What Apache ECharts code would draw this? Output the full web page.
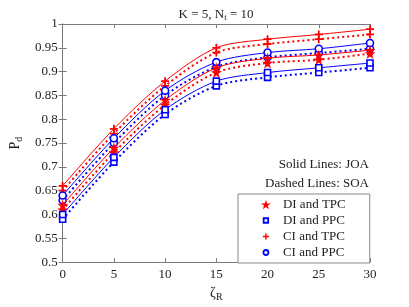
<!DOCTYPE html>
<html><head><meta charset="utf-8">
<script src="https://cdn.jsdelivr.net/npm/echarts@6/dist/echarts.min.js"></script>
<style>html,body{margin:0;padding:0;background:#fff}#c{width:409px;height:307px}</style>
</head><body><div id="c"></div>
<script>
const xValues = [0, 5, 10, 15, 20, 25, 30];
const ciTpcJOA = [0.66, 0.78, 0.88, 0.95, 0.968, 0.978, 0.989];
const ciTpcSOA = [0.65, 0.77, 0.87, 0.94, 0.958, 0.968, 0.978];
const ciPpcJOA = [0.64, 0.76, 0.86, 0.92, 0.94, 0.948, 0.96];
const ciPpcSOA = [0.63, 0.75, 0.85, 0.91, 0.93, 0.939, 0.948];
const diTpcJOA = [0.62, 0.74, 0.84, 0.908, 0.928, 0.935, 0.945];
const diTpcSOA = [0.61, 0.73, 0.83, 0.898, 0.918, 0.925, 0.938];
const diPpcJOA = [0.60, 0.72, 0.82, 0.88, 0.898, 0.908, 0.918];
const diPpcSOA = [0.59, 0.71, 0.81, 0.87, 0.888, 0.898, 0.908];
const legendNames = ['DI and TPC', 'DI and PPC', 'CI and TPC', 'CI and PPC'];

const RED = '#ff0000', BLUE = '#0000ff';
const STAR = 'path://M0,-1L0.2245,-0.309L0.951,-0.309L0.363,0.118L0.588,0.809L0,0.382L-0.588,0.809L-0.363,0.118L-0.951,-0.309L-0.2245,-0.309Z';
const PLUS = 'path://M-0.22,-1H0.22V-0.22H1V0.22H0.22V1H-0.22V0.22H-1V-0.22H-0.22Z';
// legend-only icons padded with invisible move points so they render smaller
const L_SQUARE = 'path://M-1,-1M1,1M-0.45,-0.45H0.45V0.45H-0.45Z';
const L_PLUS = 'path://M-1,-1M1,1M-0.15,-0.6H0.15V-0.15H0.6V0.15H0.15V0.6H-0.15V0.15H-0.6V-0.15H-0.15Z';
const L_CIRCLE = 'path://M-1,-1M1,1M0.5,0A0.5,0.5,0,1,1,-0.5,0A0.5,0.5,0,1,1,0.5,0Z';
const FONT = 'Liberation Serif';

function pairs(arr){ return xValues.map((x,i)=>[x, arr[i]]); }
function mk(name, arr, color, dotted, symbol, size, hollow){
  return {
    name: name, type: 'line', data: pairs(arr), smooth: 0.3,
    symbol: symbol, symbolSize: size, showAllSymbol: true,
    lineStyle: {color: color, width: dotted ? 2 : 1, type: dotted ? [2, 3] : 'solid'},
    itemStyle: hollow ? {color: '#fff', borderColor: color, borderWidth: 1.6} : {color: color, borderWidth: 0},
    emphasis: {disabled: true}, animation: false, z: dotted ? 3 : 4
  };
}
const series = [
  mk('CI and TPC', ciTpcJOA, RED, false, PLUS, 8, false),
  mk('CI and TPC', ciTpcSOA, RED, true, PLUS, 8, false),
  mk('CI and PPC', ciPpcJOA, BLUE, false, 'circle', 7, true),
  mk('CI and PPC', ciPpcSOA, BLUE, true, 'circle', 7, true),
  mk('DI and TPC', diTpcJOA, RED, false, STAR, 11, false),
  mk('DI and TPC', diTpcSOA, RED, true, STAR, 11, false),
  mk('DI and PPC', diPpcJOA, BLUE, false, 'rect', 6, true),
  mk('DI and PPC', diPpcSOA, BLUE, true, 'rect', 6, true)
];

const axisColor = '#7a7a7a';
const chart = echarts.init(document.getElementById('c'));
chart.setOption({
  backgroundColor: '#fff',
  animation: false,
  title: {
    text: 'K = 5, N{s|t} = 10', left: 211, top: 2, textAlign: 'center',
    textStyle: {fontFamily: FONT, fontSize: 13, fontWeight: 'normal', color: '#222',
      rich: {s: {fontFamily: FONT, fontSize: 9, color: '#222', verticalAlign: 'bottom', padding: [6,0,0,0]}}}
  },
  grid: {left: 53, right: 39, top: 24, bottom: 43},
  xAxis: [{
    type: 'value', min: 0, max: 30, interval: 5, position: 'bottom',
    name: '{a|ζ}{b|R}', nameLocation: 'middle', nameGap: 20,
    nameTextStyle: {rich: {a: {fontFamily: FONT, fontSize: 14, color: '#222'}, b: {fontFamily: FONT, fontSize: 10, color: '#222', padding: [8,0,0,0]}}},
    axisLine: {lineStyle: {color: axisColor, width: 1}},
    axisTick: {inside: true, length: 4, lineStyle: {color: axisColor}},
    axisLabel: {fontFamily: FONT, fontSize: 13, color: '#222', margin: 6},
    splitLine: {show: false}
  }, {
    type: 'value', min: 0, max: 30, interval: 5, position: 'top',
    axisLine: {show: true, lineStyle: {color: axisColor, width: 1}},
    axisTick: {inside: true, length: 4, lineStyle: {color: axisColor}},
    axisLabel: {show: false}, splitLine: {show: false}
  }],
  yAxis: [{
    type: 'value', min: 0.5, max: 1, interval: 0.05, position: 'left',
    name: '{a|P}{b|d}', nameLocation: 'middle', nameGap: 37, nameRotate: 90,
    nameTextStyle: {rich: {a: {fontFamily: FONT, fontSize: 14, color: '#222'}, b: {fontFamily: FONT, fontSize: 10, color: '#222', padding: [8,0,0,0]}}},
    axisLine: {show: true, lineStyle: {color: axisColor, width: 1}},
    axisTick: {show: true, inside: true, length: 4, lineStyle: {color: axisColor}},
    axisLabel: {fontFamily: FONT, fontSize: 13, color: '#222', margin: 5,
      formatter: v => String(Math.round(v*100)/100)},
    splitLine: {show: false}
  }, {
    type: 'value', min: 0.5, max: 1, interval: 0.05, position: 'right',
    axisLine: {show: true, lineStyle: {color: axisColor, width: 1}},
    axisTick: {show: true, inside: true, length: 4, lineStyle: {color: axisColor}},
    axisLabel: {show: false}, splitLine: {show: false}
  }],
  legend: {
    orient: 'vertical', left: 238, top: 194, selectedMode: false,
    padding: [3, 24, 3, 22], itemGap: 1, itemWidth: 10, itemHeight: 10,
    backgroundColor: '#fff', borderColor: '#888', borderWidth: 1,
    textStyle: {fontFamily: FONT, fontSize: 13, color: '#222', lineHeight: 15, padding: [0,0,0,7]},
    data: [
      {name: legendNames[0], icon: STAR, itemStyle: {color: RED, borderWidth: 0}},
      {name: legendNames[1], icon: L_SQUARE, itemStyle: {color: '#fff', borderColor: BLUE, borderWidth: 1.8}},
      {name: legendNames[2], icon: L_PLUS, itemStyle: {color: RED, borderWidth: 0}},
      {name: legendNames[3], icon: L_CIRCLE, itemStyle: {color: '#fff', borderColor: BLUE, borderWidth: 1.8}}
    ]
  },
  graphic: [
    {type: 'text', right: 40, top: 158, style: {text: 'Solid Lines: JOA', font: '13px "Liberation Serif"', fill: '#222'}},
    {type: 'text', right: 40, top: 177, style: {text: 'Dashed Lines: SOA', font: '13px "Liberation Serif"', fill: '#222'}}
  ],
  series: series
});
</script></body></html>
